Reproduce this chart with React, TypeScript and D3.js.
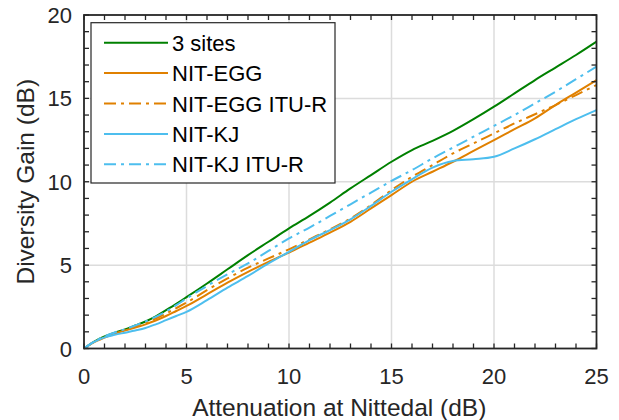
import React from "react";
import * as d3 from "d3";

const xs = [0,0.5,1,1.5,2,2.5,3,3.5,4,4.5,5,6,7,8,9,10,11,12,13,14,15,16,17,18,19,20,21,22,23,24,25];
const threeSites = [0,0.42,0.72,0.95,1.15,1.38,1.62,1.93,2.3,2.68,3.08,3.9,4.75,5.6,6.4,7.2,7.95,8.75,9.6,10.4,11.2,11.9,12.45,13.05,13.75,14.5,15.3,16.1,16.85,17.6,18.4];
const nitEgg = [0,0.38,0.65,0.9,1.08,1.25,1.45,1.68,1.95,2.25,2.55,3.25,3.95,4.6,5.2,5.75,6.35,6.95,7.6,8.4,9.2,10.0,10.6,11.2,11.85,12.5,13.15,13.8,14.6,15.35,16.1];
const nitEggItu = [0,0.4,0.68,0.93,1.13,1.33,1.55,1.8,2.1,2.42,2.75,3.5,4.2,4.85,5.4,5.95,6.55,7.15,7.8,8.6,9.5,10.3,11.0,11.7,12.3,12.9,13.5,14.05,14.6,15.2,15.8];
const nitKj = [0,0.4,0.67,0.82,0.95,1.08,1.23,1.45,1.7,1.95,2.2,2.9,3.65,4.35,5.1,5.8,6.5,7.1,7.75,8.55,9.4,10.15,10.85,11.25,11.35,11.5,12.0,12.55,13.15,13.75,14.3];
const nitKjItu = [0,0.42,0.72,0.96,1.16,1.38,1.62,1.9,2.22,2.6,3.0,3.75,4.45,5.1,5.85,6.6,7.25,7.95,8.65,9.35,10.05,10.7,11.4,12.05,12.7,13.35,14.0,14.7,15.4,16.15,16.9];

const seriesNames = ["3 sites", "NIT-EGG", "NIT-EGG ITU-R", "NIT-KJ", "NIT-KJ ITU-R"];
const seriesValues = [threeSites, nitEgg, nitEggItu, nitKj, nitKjItu];
const seriesColors = ["#008000", "#E08000", "#E08000", "#4DBEEE", "#4DBEEE"];
const seriesDash = [null, null, "12,5,3,5", null, "12,5,3,5"];

const xTicks = [0, 5, 10, 15, 20, 25];
const yTicks = [0, 5, 10, 15, 20];
const xMinor = d3.range(0, 26, 1);
const yMinor = d3.range(0, 21, 1);

const W = 619, H = 420;
const L = 84, R = 596.5, T = 15, B = 348.5;
const FONT = "'Liberation Sans', Arial, sans-serif";

export default function App() {
  const x = d3.scaleLinear().domain([0, 25]).range([L, R]);
  const y = d3.scaleLinear().domain([0, 20]).range([B, T]);
  const axisColor = "#262626";
  const line = (vals: number[]) =>
    d3.line<number>().x((_, i) => x(xs[i])).y((v) => y(v)).curve(d3.curveMonotoneX)(vals) || "";
  const tick = 5;
  const legX = 91, legY = 22.7, legW = 244, legH = 160.3;
  const rowY = (i: number) => 42.7 + i * 30.4;

  return (
    <svg width={W} height={H} style={{ position: "absolute", left: 0, top: 0, background: "#fff" }}>
      <rect x={0} y={0} width={W} height={H} fill="#fff" />
      {xTicks.slice(1, -1).map((t) => (
        <line key={"gx" + t} x1={x(t)} x2={x(t)} y1={T} y2={B} stroke="#dcdcdc" strokeWidth={1.5} />
      ))}
      {yTicks.slice(1, -1).map((t) => (
        <line key={"gy" + t} x1={L} x2={R} y1={y(t)} y2={y(t)} stroke="#dcdcdc" strokeWidth={1.5} />
      ))}
      {seriesValues.map((vals, i) => (
        <path key={"s" + i} d={line(vals)} fill="none" stroke={seriesColors[i]} strokeWidth={2}
          strokeDasharray={seriesDash[i] || undefined} />
      ))}
      {xMinor.map((t) => (
        <g key={"tx" + t}>
          <line x1={x(t)} x2={x(t)} y1={B} y2={B - tick} stroke={axisColor} strokeWidth={1.3} />
          <line x1={x(t)} x2={x(t)} y1={T} y2={T + tick} stroke={axisColor} strokeWidth={1.3} />
        </g>
      ))}
      {yMinor.map((t) => (
        <g key={"ty" + t}>
          <line x1={L} x2={L + tick} y1={y(t)} y2={y(t)} stroke={axisColor} strokeWidth={1.3} />
          <line x1={R} x2={R - tick} y1={y(t)} y2={y(t)} stroke={axisColor} strokeWidth={1.3} />
        </g>
      ))}
      <rect x={L} y={T} width={R - L} height={B - T} fill="none" stroke={axisColor} strokeWidth={1.8} />
      {xTicks.map((t) => (
        <text key={"lx" + t} x={x(t)} y={384} textAnchor="middle" fontFamily={FONT} fontSize={22} fill={axisColor}>{t}</text>
      ))}
      {yTicks.map((t) => (
        <text key={"ly" + t} x={72} y={y(t) + 8} textAnchor="end" fontFamily={FONT} fontSize={22} fill={axisColor}>{t}</text>
      ))}
      <text x={(L + R) / 2 - 1} y={416} textAnchor="middle" fontFamily={FONT} fontSize={24.5} fill={axisColor}>Attenuation at Nittedal (dB)</text>
      <text transform={`translate(34,${(T + B) / 2}) rotate(-90)`} textAnchor="middle" fontFamily={FONT} fontSize={24.5} fill={axisColor}>Diversity Gain (dB)</text>
      <rect x={legX} y={legY} width={legW} height={legH} fill="#fff" stroke={axisColor} strokeWidth={1.2} />
      {seriesNames.map((n, i) => (
        <g key={"lg" + i}>
          <line x1={104} x2={168} y1={rowY(i)} y2={rowY(i)} stroke={seriesColors[i]} strokeWidth={2}
            strokeDasharray={seriesDash[i] || undefined} />
          <text x={172} y={rowY(i) + 8} fontFamily={FONT} fontSize={22} fill="#000">{n}</text>
        </g>
      ))}
    </svg>
  );
}
